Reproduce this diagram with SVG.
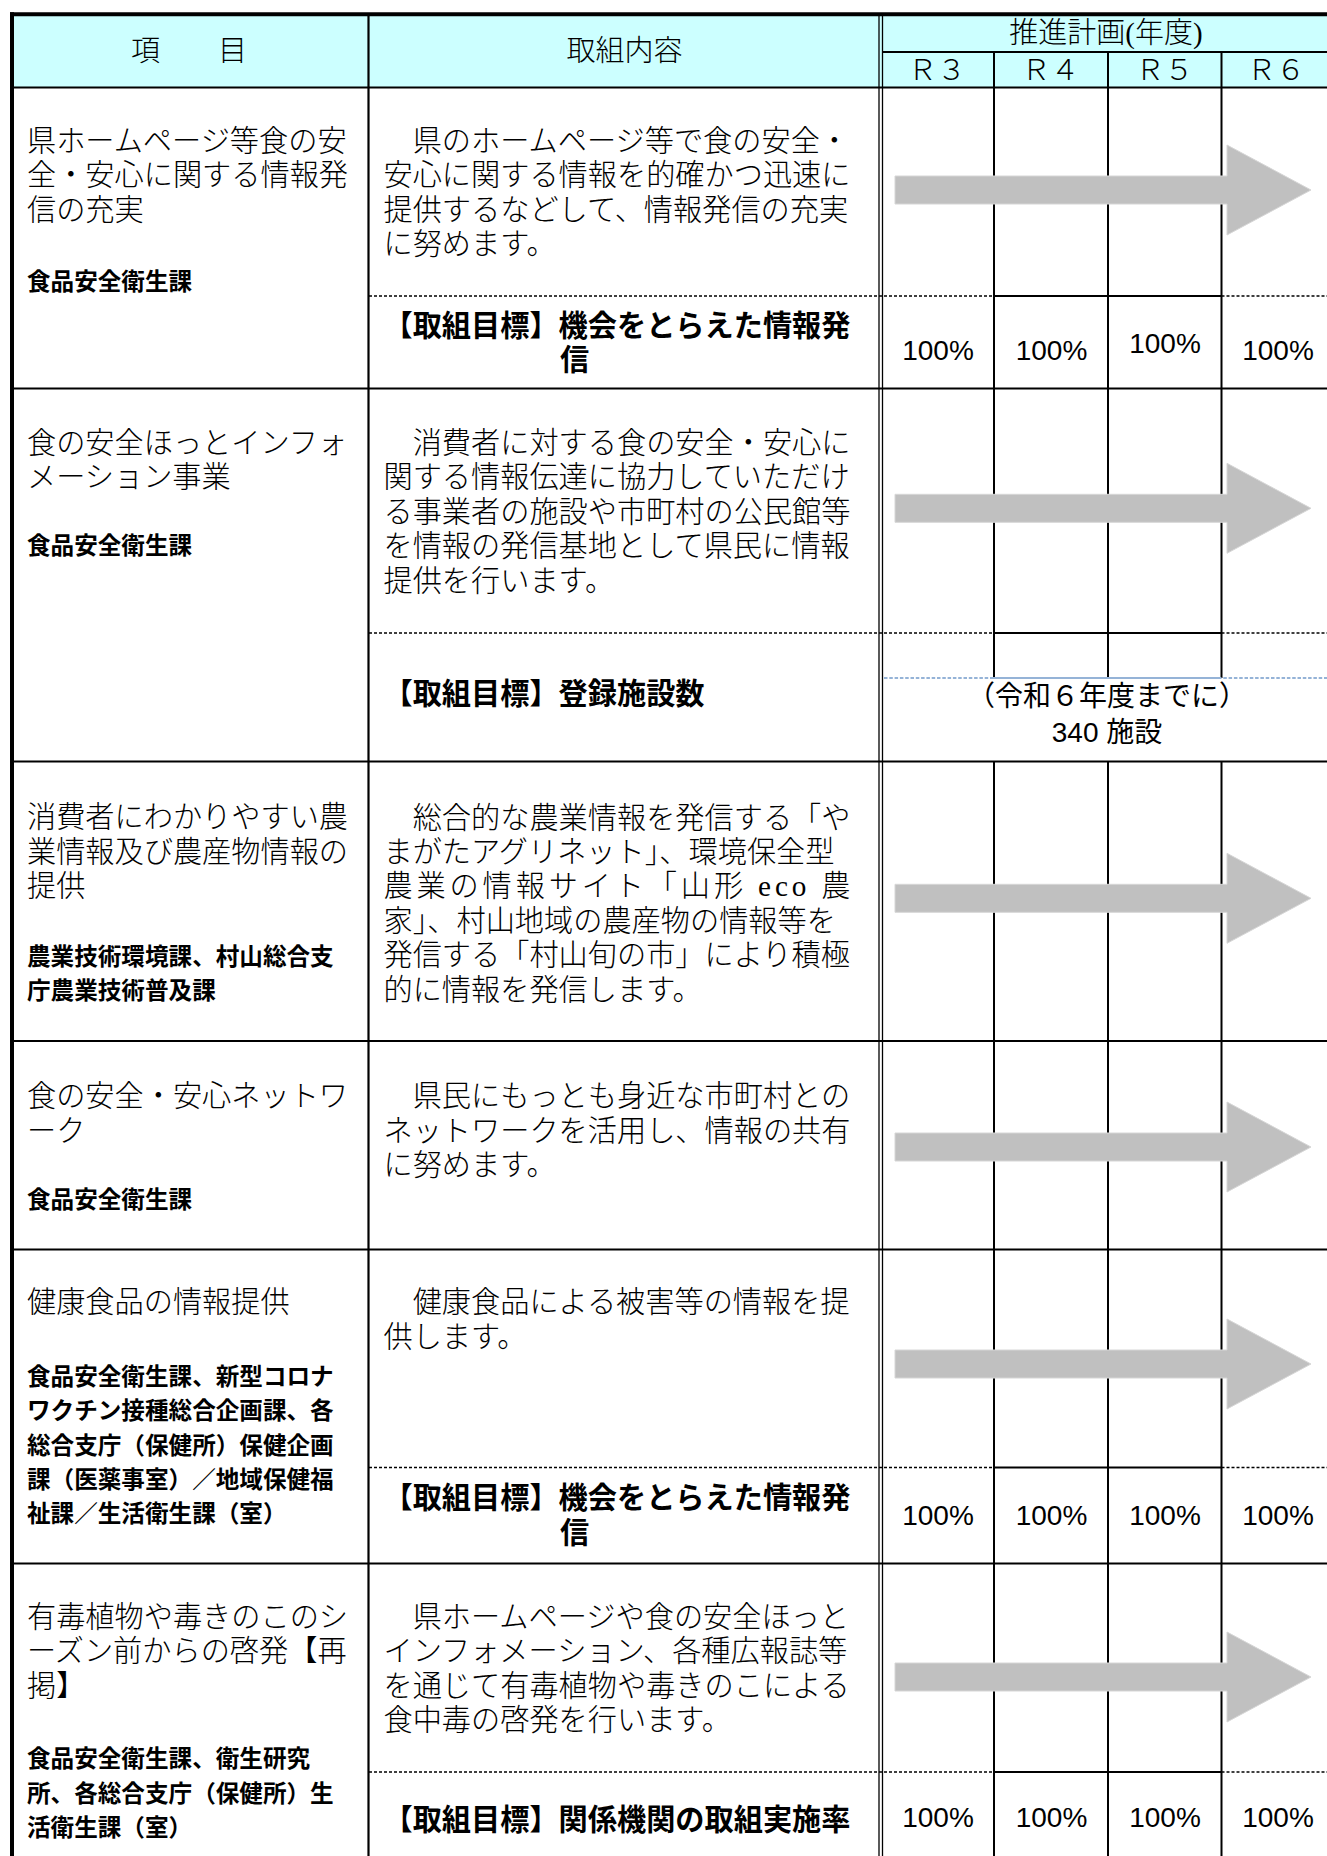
<svg xmlns="http://www.w3.org/2000/svg" width="1327" height="1856" viewBox="0 0 1327 1856">
<defs>
<style>
.bg{fill:#ffffff}
.hd{fill:#ccffff}
.ln{stroke:#000;stroke-width:2.2;fill:none}
.bd{stroke:#000;stroke-width:4;fill:none}
.thin{stroke:#000;stroke-width:1.3;fill:none}
.dsh{stroke:#000;stroke-width:1.5;stroke-dasharray:3 2;fill:none}
.sol{stroke:#000;stroke-width:2;fill:none}
.bl{stroke:#95b3d7;stroke-width:2;stroke-dasharray:3.5 1.8;fill:none}
.bls{stroke:#95b3d7;stroke-width:2;fill:none}
.t{font-family:'Liberation Serif','Noto Sans CJK JP',serif;font-size:29.2px;font-weight:300;fill:#000}
.h{font-family:'Liberation Serif','Noto Sans CJK JP',serif;font-size:29px;font-weight:300;fill:#000;text-anchor:middle}
.d{font-family:'Liberation Sans','Noto Sans CJK JP',sans-serif;font-weight:bold;font-size:23.6px;fill:#000}
.g{font-family:'Liberation Sans','Noto Sans CJK JP',sans-serif;font-weight:bold;font-size:29.2px;fill:#000}
.p{font-family:'Liberation Sans',sans-serif;font-size:28px;fill:#000;text-anchor:middle}
.n{font-family:'Liberation Sans','Noto Sans CJK JP',sans-serif;font-size:28px;fill:#000;text-anchor:middle}
.ar{fill:#c0c0c0;stroke:#d6d6d6;stroke-width:1}
</style>
<path id="arrow" class="ar" d="M895,-14H1227V-45L1311,0L1227,45V14H895Z"/>
</defs>
<rect class="bg" x="0" y="0" width="1327" height="1856"/>
<rect class="hd" x="14" y="16" width="1313" height="71"/>

<g id="grid">
<line class="bd" x1="12" y1="12.3" x2="12" y2="1856"/>
<line class="bd" x1="10" y1="14.3" x2="1327" y2="14.3"/>
<line class="ln" x1="368.5" y1="14" x2="368.5" y2="1856"/>
<line class="thin" x1="879" y1="14" x2="879" y2="1856"/>
<line class="thin" x1="882.5" y1="14" x2="882.5" y2="1856"/>
<line class="sol" x1="882" y1="52" x2="1327" y2="52"/>
<line class="ln" x1="10" y1="87.5" x2="1327" y2="87.5"/>
<line class="sol" x1="994" y1="52" x2="994" y2="678"/>
<line class="sol" x1="1108" y1="52" x2="1108" y2="678"/>
<line class="sol" x1="1221.5" y1="52" x2="1221.5" y2="678"/>
<line class="sol" x1="994" y1="761.5" x2="994" y2="1856"/>
<line class="sol" x1="1108" y1="761.5" x2="1108" y2="1856"/>
<line class="sol" x1="1221.5" y1="761.5" x2="1221.5" y2="1856"/>
<line class="ln" x1="10" y1="388.5" x2="1327" y2="388.5"/>
<line class="ln" x1="10" y1="761.5" x2="1327" y2="761.5"/>
<line class="ln" x1="10" y1="1041" x2="1327" y2="1041"/>
<line class="ln" x1="10" y1="1249.5" x2="1327" y2="1249.5"/>
<line class="ln" x1="10" y1="1563.5" x2="1327" y2="1563.5"/>
<line class="dsh" x1="369" y1="296" x2="994" y2="296"/>
<line class="sol" x1="994" y1="296" x2="1221.5" y2="296"/>
<line class="dsh" x1="1221.5" y1="296" x2="1327" y2="296"/>
<line class="dsh" x1="369" y1="633" x2="994" y2="633"/>
<line class="sol" x1="994" y1="633" x2="1221.5" y2="633"/>
<line class="dsh" x1="1221.5" y1="633" x2="1327" y2="633"/>
<line class="bl" x1="884" y1="678" x2="990" y2="678"/>
<line class="bls" x1="990" y1="678" x2="1218" y2="678"/>
<line class="bl" x1="1218" y1="678" x2="1327" y2="678"/>
<line class="dsh" x1="369" y1="1467.5" x2="994" y2="1467.5"/>
<line class="sol" x1="994" y1="1467.5" x2="1221.5" y2="1467.5"/>
<line class="dsh" x1="1221.5" y1="1467.5" x2="1327" y2="1467.5"/>
<line class="dsh" x1="369" y1="1772" x2="994" y2="1772"/>
<line class="sol" x1="994" y1="1772" x2="1221.5" y2="1772"/>
<line class="dsh" x1="1221.5" y1="1772" x2="1327" y2="1772"/>
</g>

<g id="arrows">
<use href="#arrow" y="190"/>
<use href="#arrow" y="508.3"/>
<use href="#arrow" y="898.3"/>
<use href="#arrow" y="1147"/>
<use href="#arrow" y="1364"/>
<use href="#arrow" y="1677"/>
</g>

<g id="header">
<text class="h" x="189" y="61">項　　目</text>
<text class="h" x="624.5" y="61">取組内容</text>
<text class="h" x="1106" y="43">推進計画(年度)</text>
<text class="h" x="937" y="80">Ｒ３</text>
<text class="h" x="1050.5" y="80">Ｒ４</text>
<text class="h" x="1164.5" y="80">Ｒ５</text>
<text class="h" x="1276" y="80">Ｒ６</text>
</g>

<g id="row1">
<text class="t"><tspan x="27" y="150.5">県ホームページ等食の安</tspan><tspan x="27" y="185">全・安心に関する情報発</tspan><tspan x="27" y="219.5">信の充実</tspan></text>
<text class="d" x="27" y="290">食品安全衛生課</text>
<text class="t"><tspan x="383.5" y="150.5">　県のホームページ等で食の安全・</tspan><tspan x="383.5" y="185">安心に関する情報を的確かつ迅速に</tspan><tspan x="383.5" y="219.5">提供するなどして、情報発信の充実</tspan><tspan x="383.5" y="254">に努めます。</tspan></text>
<text class="g"><tspan x="383.5" y="336">【取組目標】機会をとらえた情報発</tspan><tspan x="560" y="370">信</tspan></text>
<text class="p" x="938" y="360">100%</text>
<text class="p" x="1051.5" y="360">100%</text>
<text class="p" x="1165" y="353">100%</text>
<text class="p" x="1278" y="360">100%</text>
</g>

<g id="row2">
<text class="t"><tspan x="27" y="452.5">食の安全ほっとインフォ</tspan><tspan x="27" y="487">メーション事業</tspan></text>
<text class="d" x="27" y="554">食品安全衛生課</text>
<text class="t"><tspan x="383.5" y="452.5">　消費者に対する食の安全・安心に</tspan><tspan x="383.5" y="487">関する情報伝達に協力していただけ</tspan><tspan x="383.5" y="521.5">る事業者の施設や市町村の公民館等</tspan><tspan x="383.5" y="556">を情報の発信基地として県民に情報</tspan><tspan x="383.5" y="590.5">提供を行います。</tspan></text>
<text class="g" x="383.5" y="704">【取組目標】登録施設数</text>
<text class="n"><tspan x="1107" y="706">（令和６年度までに）</tspan><tspan x="1107" y="742">340 施設</tspan></text>
</g>

<g id="row3">
<text class="t"><tspan x="27" y="827">消費者にわかりやすい農</tspan><tspan x="27" y="861.5">業情報及び農産物情報の</tspan><tspan x="27" y="896">提供</tspan></text>
<text class="d"><tspan x="27" y="964.5">農業技術環境課、村山総合支</tspan><tspan x="27" y="998.5">庁農業技術普及課</tspan></text>
<text class="t"><tspan x="383.5" y="827.5">　総合的な農業情報を発信する「や</tspan><tspan x="383.5" y="862">まがたアグリネット」、環境保全型</tspan></text>
<text class="t" x="383.5" y="896" textLength="467" lengthAdjust="spacing">農業の情報サイト「山形 eco 農</text>
<text class="t"><tspan x="383.5" y="930.5">家」、村山地域の農産物の情報等を</tspan><tspan x="383.5" y="965">発信する「村山旬の市」により積極</tspan><tspan x="383.5" y="999.5">的に情報を発信します。</tspan></text>
</g>

<g id="row4">
<text class="t"><tspan x="27" y="1106">食の安全・安心ネットワ</tspan><tspan x="27" y="1140.5">ーク</tspan></text>
<text class="d" x="27" y="1208">食品安全衛生課</text>
<text class="t"><tspan x="383.5" y="1106">　県民にもっとも身近な市町村との</tspan><tspan x="383.5" y="1140.5">ネットワークを活用し、情報の共有</tspan><tspan x="383.5" y="1175">に努めます。</tspan></text>
</g>

<g id="row5">
<text class="t" x="27" y="1312">健康食品の情報提供</text>
<text class="d"><tspan x="27" y="1384.5">食品安全衛生課、新型コロナ</tspan><tspan x="27" y="1419">ワクチン接種総合企画課、各</tspan><tspan x="27" y="1453.5">総合支庁（保健所）保健企画</tspan><tspan x="27" y="1488">課（医薬事室）／地域保健福</tspan><tspan x="27" y="1522">祉課／生活衛生課（室）</tspan></text>
<text class="t"><tspan x="383.5" y="1312">　健康食品による被害等の情報を提</tspan><tspan x="383.5" y="1347">供します。</tspan></text>
<text class="g"><tspan x="383.5" y="1508">【取組目標】機会をとらえた情報発</tspan><tspan x="560" y="1543">信</tspan></text>
<text class="p" x="938" y="1525">100%</text>
<text class="p" x="1051.5" y="1525">100%</text>
<text class="p" x="1165" y="1525">100%</text>
<text class="p" x="1278" y="1525">100%</text>
</g>

<g id="row6">
<text class="t"><tspan x="27" y="1626.5">有毒植物や毒きのこのシ</tspan><tspan x="27" y="1661">ーズン前からの啓発【再</tspan><tspan x="27" y="1695.5">掲】</tspan></text>
<text class="d"><tspan x="27" y="1767">食品安全衛生課、衛生研究</tspan><tspan x="27" y="1801.5">所、各総合支庁（保健所）生</tspan><tspan x="27" y="1836">活衛生課（室）</tspan></text>
<text class="t"><tspan x="383.5" y="1626.5">　県ホームページや食の安全ほっと</tspan><tspan x="383.5" y="1661">インフォメーション、各種広報誌等</tspan><tspan x="383.5" y="1695.5">を通じて有毒植物や毒きのこによる</tspan><tspan x="383.5" y="1730">食中毒の啓発を行います。</tspan></text>
<text class="g" x="383.5" y="1829.5">【取組目標】関係機関の取組実施率</text>
<text class="p" x="938" y="1827">100%</text>
<text class="p" x="1051.5" y="1827">100%</text>
<text class="p" x="1165" y="1827">100%</text>
<text class="p" x="1278" y="1827">100%</text>
</g>
</svg>
